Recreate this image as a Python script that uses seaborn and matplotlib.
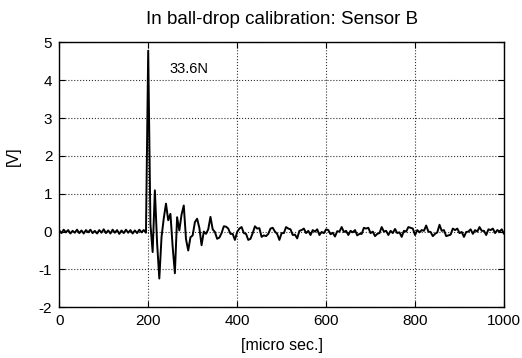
import numpy as np
import pandas as pd
import matplotlib
matplotlib.use("Agg")
import matplotlib.pyplot as plt
import seaborn as sns

# sampled every 5 micro sec. from 0 to 1000
tiempo = np.arange(0, 1001, 5)

base = [0.03, -0.04, 0.05, -0.02, 0.04, -0.05, 0.02, -0.03, 0.05, -0.04,
        0.03, -0.05, 0.04, -0.02, 0.05, -0.04, 0.02, -0.05, 0.04, -0.03,
        0.06, -0.04, 0.03, -0.05, 0.05, -0.03, 0.04, -0.06, 0.03, -0.04,
        0.05, -0.03, 0.04, -0.05, 0.03, -0.04, 0.05, -0.02, 0.04, -0.03]

impacto = [4.78, 0.2, -0.54, 1.09, -0.3, -1.24, -0.14, 0.35, 0.74, 0.3,
           0.47, -0.4, -1.1, 0.38, 0.03, 0.45, 0.69, -0.2, -0.5, -0.15,
           -0.1, 0.25, 0.34, 0.1, -0.36, 0.0, -0.06, 0.06, 0.39, 0.06,
           -0.01, -0.19, -0.16, -0.04, 0.14, 0.13, 0.08, -0.06, -0.06, -0.22]

medio = [-0.01, 0.08, 0.12, -0.04, -0.06, -0.22, -0.19, -0.04, 0.14, 0.08,
         0.09, -0.14, -0.10, -0.12, -0.06, 0.08, 0.10, 0.00, -0.06, -0.22,
         -0.04, -0.04, 0.12, 0.08, 0.06, -0.09, -0.08, -0.18, 0.02, 0.04,
         0.08, -0.04, 0.02, -0.09, 0.04, 0.00, 0.06, -0.09, -0.01, -0.04,
         0.06]

cola = [0.04, -0.07, -0.03, -0.13, 0.01, 0.00, 0.12, -0.01, 0.02, -0.09,
        0.02, -0.02, 0.04, -0.10, -0.06, -0.06, 0.10, 0.08, 0.10, -0.04,
        0.00, -0.12, -0.06, -0.04, 0.12, 0.00, 0.02, -0.09, 0.02, -0.04,
        0.07, -0.04, -0.02, -0.14, 0.02, 0.00, 0.12, 0.10, 0.08, -0.09,
        0.04, -0.02, 0.04, 0.02, 0.16, 0.00, -0.01, -0.12, -0.06, -0.02,
        0.18, 0.02, 0.04, -0.12, -0.10, -0.08, 0.08, 0.04, 0.08, -0.04,
        -0.01, -0.14, -0.01, 0.00, 0.06, -0.06, 0.04, 0.00, 0.12, 0.02,
        0.02, -0.09, 0.06, 0.04, 0.08, -0.04, 0.04, 0.00, 0.06, -0.06]

voltaje = base + impacto + medio + cola

df = pd.DataFrame({'t': tiempo, 'V': voltaje})

sns.set_style("ticks")
plt.rcParams['font.family'] = ['Liberation Sans', 'DejaVu Sans']
plt.rcParams['axes.unicode_minus'] = False
plt.rcParams['text.color'] = 'black'
plt.rcParams['axes.labelcolor'] = 'black'

fig = plt.figure(figsize=(5.22, 3.58), dpi=100)
ax = fig.add_axes([0.1135, 0.1416, 0.852, 0.7402])

sns.lineplot(data=df, x='t', y='V', color='black', linewidth=1.4, estimator=None, ax=ax)

ax.set_xlim(0, 1000)
ax.set_ylim(-2, 5)
ax.set_xticks([0, 200, 400, 600, 800, 1000])
ax.set_yticks(range(-2, 6))
ax.grid(True, linestyle=':', color='0.2', linewidth=0.8)
ax.tick_params(direction='in', top=True, right=True, length=4, width=0.8,
               labelsize=11, colors='black', pad=5)
for s in ax.spines.values():
    s.set_linewidth(1.0)
    s.set_color('black')

ax.set_title('In ball-drop calibration: Sensor B', fontsize=13.5, pad=13, color='black')
ax.set_xlabel('[micro sec.]', fontsize=11.5, labelpad=7)
ax.set_ylabel('[V]', fontsize=11.5)
ax.yaxis.set_label_coords(-0.086, 0.57)
ax.text(291, 4.29, '33.6N', fontsize=10.5, ha='center', va='center')

fig.savefig('out.png', dpi=100)
